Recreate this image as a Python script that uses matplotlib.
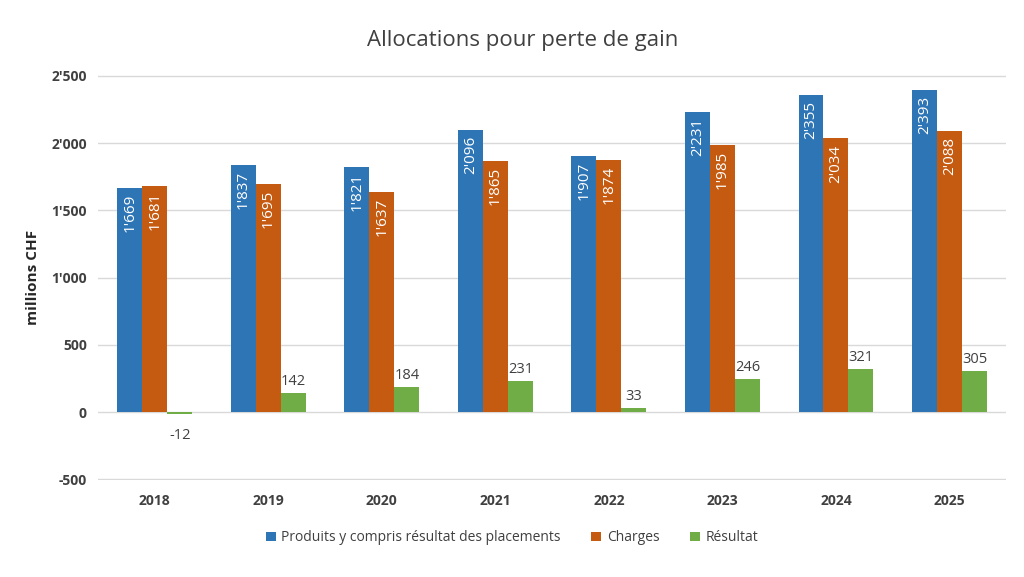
import numpy as np
import matplotlib.pyplot as plt
from matplotlib.ticker import FuncFormatter

plt.rcParams['font.family'] = ['Open Sans', 'DejaVu Sans']

# Data
years = ['2018', '2019', '2020', '2021', '2022', '2023', '2024', '2025']
produits = [1669, 1837, 1821, 2096, 1907, 2231, 2355, 2393]
charges = [1681, 1695, 1637, 1865, 1874, 1985, 2034, 2088]
resultat = [-12, 142, 184, 231, 33, 246, 321, 305]

c_blue = '#2e75b6'
c_orange = '#c55a11'
c_green = '#70ad47'
txt = '#404040'


def fmt(v):
    s = f"{abs(int(v)):,}".replace(',', "'")
    return '-' + s if v < 0 else s


fig = plt.figure(figsize=(10.24, 5.77), dpi=100)
ax = fig.add_axes([0.0957, 0.168, 0.887, 0.702])

x = np.arange(len(years))
w = 0.22

b1 = ax.bar(x - w, produits, w, color=c_blue, label='Produits y compris résultat des placements', zorder=3)
b2 = ax.bar(x, charges, w, color=c_orange, label='Charges', zorder=3)
b3 = ax.bar(x + w, resultat, w, color=c_green, label='Résultat', zorder=3)

for bars, vals in ((b1, produits), (b2, charges)):
    for b, v in zip(bars, vals):
        ax.text(b.get_x() + b.get_width() / 2, v - 45, fmt(v), rotation=90,
                ha='center', va='top', color='white', fontsize=11, zorder=4)

for b, v in zip(b3, resultat):
    if v >= 0:
        ax.text(b.get_x() + b.get_width() / 2, v + 30, fmt(v),
                ha='center', va='bottom', color=txt, fontsize=10.5)
    else:
        ax.text(b.get_x() + b.get_width() / 2, v - 110, fmt(v),
                ha='center', va='top', color=txt, fontsize=10.5)

ax.set_xlim(-0.5, len(years) - 0.5)
ax.set_ylim(-506, 2506)
ax.set_yticks(np.arange(-500, 2501, 500))
ax.yaxis.set_major_formatter(FuncFormatter(lambda v, p: fmt(v)))
ax.set_xticks(x)
ax.set_xticklabels(years)
for lab in ax.get_xticklabels() + ax.get_yticklabels():
    lab.set_fontweight('bold')
    lab.set_color(txt)
    lab.set_fontsize(10)
ax.tick_params(length=0, pad=8)
ax.tick_params(axis='x', pad=10)

ax.grid(axis='y', color='#d9d9d9', linewidth=1, zorder=0)
for s in ax.spines.values():
    s.set_visible(False)

ax.set_ylabel('millions CHF', fontsize=11, fontweight='bold', color='#262626', labelpad=8)
fig.text(0.51, 0.93, 'Allocations pour perte de gain', ha='center', va='center',
         fontsize=16, color=txt)

fig.legend(loc='center', bbox_to_anchor=(0.5, 0.068), ncol=3, frameon=False,
           fontsize=10, handlelength=0.7, handleheight=0.7, columnspacing=2.2,
           handletextpad=0.4, labelcolor=txt)

fig.savefig('out.png', dpi=100)
